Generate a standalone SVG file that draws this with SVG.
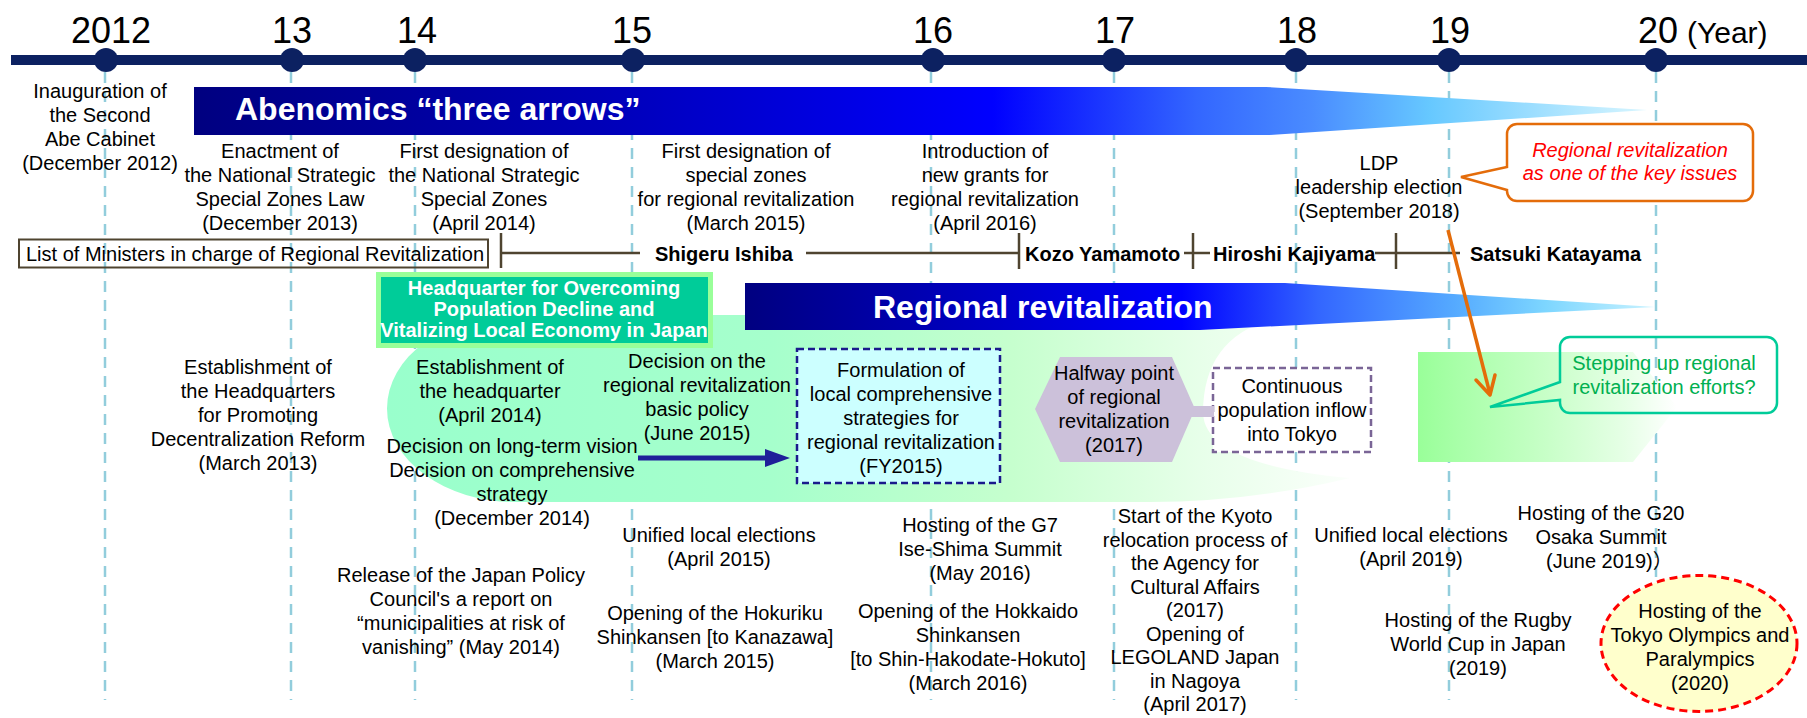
<svg xmlns="http://www.w3.org/2000/svg" width="1807" height="718" viewBox="0 0 1807 718">
<style>
.t{font-family:"Liberation Sans",Arial,"Noto Sans CJK JP",sans-serif;font-size:20px;fill:#000;text-anchor:middle}
.s{text-anchor:start}
.b{font-weight:bold}
.w{fill:#fff}
.yr{font-size:36px}
.dash{stroke:#92cddc;stroke-width:2.5;stroke-dasharray:11 8;fill:none}
.min{stroke:#4f4430;stroke-width:2.5;fill:none}
.dot{fill:#0c2161}
</style>
<defs>
<linearGradient id="gAbe" gradientUnits="userSpaceOnUse" x1="194" y1="0" x2="1647" y2="0">
<stop offset="0" stop-color="#000080"/>
<stop offset="0.28" stop-color="#0000b8"/>
<stop offset="0.55" stop-color="#0000ff"/>
<stop offset="0.69" stop-color="#3366ff"/>
<stop offset="0.77" stop-color="#4a8cff"/>
<stop offset="0.85" stop-color="#66c8ff"/>
<stop offset="1" stop-color="#d8f6ff"/>
</linearGradient>
<linearGradient id="gReg" gradientUnits="userSpaceOnUse" x1="745" y1="0" x2="1655" y2="0">
<stop offset="0" stop-color="#000080"/>
<stop offset="0.28" stop-color="#0000c8"/>
<stop offset="0.48" stop-color="#0000ff"/>
<stop offset="0.63" stop-color="#3366ff"/>
<stop offset="0.78" stop-color="#55aaff"/>
<stop offset="0.88" stop-color="#7dd6ff"/>
<stop offset="1" stop-color="#c8f2ff"/>
</linearGradient>
<linearGradient id="gMint" gradientUnits="userSpaceOnUse" x1="387" y1="0" x2="1350" y2="0">
<stop offset="0" stop-color="#99ffcc"/>
<stop offset="0.4" stop-color="#a6ffcc"/>
<stop offset="0.65" stop-color="#c6ffce"/>
<stop offset="0.85" stop-color="#e8ffea"/>
<stop offset="1" stop-color="#fbfffb"/>
</linearGradient>
<linearGradient id="gStep" gradientUnits="userSpaceOnUse" x1="1418" y1="0" x2="1677" y2="0">
<stop offset="0" stop-color="#99ff99"/>
<stop offset="0.15" stop-color="#a8ffa8"/>
<stop offset="0.5" stop-color="#c8ffc8"/>
<stop offset="0.8" stop-color="#e6ffe6"/>
<stop offset="1" stop-color="#ffffff"/>
</linearGradient>
</defs>

<g id="gridlines">
<line class="dash" x1="105" y1="72" x2="105" y2="700"/>
<line class="dash" x1="291" y1="72" x2="291" y2="700"/>
<line class="dash" x1="415" y1="72" x2="415" y2="700"/>
<line class="dash" x1="632" y1="72" x2="632" y2="700"/>
<line class="dash" x1="931" y1="72" x2="931" y2="700"/>
<line class="dash" x1="1114" y1="72" x2="1114" y2="700"/>
<line class="dash" x1="1296" y1="72" x2="1296" y2="700"/>
<line class="dash" x1="1449" y1="72" x2="1449" y2="700"/>
<line class="dash" x1="1656" y1="72" x2="1656" y2="700"/>
</g>

<g id="timeline">
<line x1="11" y1="60" x2="1807" y2="60" stroke="#0c2161" stroke-width="10"/>
<circle class="dot" cx="106" cy="60" r="12"/>
<circle class="dot" cx="292" cy="60" r="12"/>
<circle class="dot" cx="415" cy="60" r="12"/>
<circle class="dot" cx="633" cy="60" r="12"/>
<circle class="dot" cx="933" cy="60" r="12"/>
<circle class="dot" cx="1114" cy="60" r="12"/>
<circle class="dot" cx="1296" cy="60" r="12"/>
<circle class="dot" cx="1449" cy="60" r="12"/>
<circle class="dot" cx="1656" cy="60" r="12"/>
<text class="t yr" x="111" y="43">2012</text>
<text class="t yr" x="292" y="43">13</text>
<text class="t yr" x="417" y="43">14</text>
<text class="t yr" x="632" y="43">15</text>
<text class="t yr" x="933" y="43">16</text>
<text class="t yr" x="1115" y="43">17</text>
<text class="t yr" x="1297" y="43">18</text>
<text class="t yr" x="1450" y="43">19</text>
<text class="t yr" x="1658" y="43">20</text>
<text class="t s" x="1687" y="43" style="font-size:30px">(Year)</text>
</g>

<g id="mint-area">
<path d="M515,315 L1290,315 Q1203,330 1203,413 Q1205,465 1350,478 Q1250,502 1150,502 L515,502 A128,93.5 0 0 1 515,315 Z" fill="url(#gMint)"/>
</g>

<g id="stepping-area">
<polygon points="1418,352 1633,352 1677,407 1633,462 1418,462" fill="url(#gStep)"/>
</g>

<g id="abenomics">
<path d="M194,87 L1266,87 L1647,110 L1270,135 L194,135 Z" fill="url(#gAbe)"/>
<text class="t s b w" x="235" y="120" style="font-size:32px">Abenomics “three arrows”</text>
</g>

<g id="regional-revitalization">
<path d="M745,283 L1285,283 L1655,307 L1200,330 L745,330 Z" fill="url(#gReg)"/>
<text class="t s b w" x="873" y="318" style="font-size:32px">Regional revitalization</text>
</g>

<g id="headquarter">
<rect x="378.5" y="274.5" width="332" height="71" fill="#00cc99" stroke="#99ff99" stroke-width="5"/>
<text class="t b w"><tspan x="544" y="295">Headquarter for Overcoming</tspan><tspan x="544" y="316">Population Decline and</tspan><tspan x="544" y="337">Vitalizing Local Economy in Japan</tspan></text>
</g>

<g id="ministers">
<rect x="19" y="239.5" width="469" height="28" fill="none" stroke="#4f4430" stroke-width="2"/>
<text class="t s" x="26" y="261">List of Ministers in charge of Regional Revitalization</text>
<line class="min" x1="501" y1="253" x2="640" y2="253"/>
<line class="min" x1="806" y1="253" x2="1019" y2="253"/>
<line class="min" x1="1184" y1="253" x2="1210" y2="253"/>
<line class="min" x1="1375" y1="253" x2="1460" y2="253"/>
<line class="min" x1="501" y1="233" x2="501" y2="268"/>
<line class="min" x1="1019" y1="233" x2="1019" y2="269"/>
<line class="min" x1="1193" y1="233" x2="1193" y2="269"/>
<line class="min" x1="1396" y1="233" x2="1396" y2="269"/>
<text class="t s b" x="655" y="261">Shigeru Ishiba</text>
<text class="t s b" x="1025" y="261">Kozo Yamamoto</text>
<text class="t s b" x="1213" y="261">Hiroshi Kajiyama</text>
<text class="t s b" x="1470" y="261">Satsuki Katayama</text>
</g>

<g id="ev-inauguration"><text class="t"><tspan x="100" y="98">Inauguration of</tspan><tspan x="100" y="122">the Second</tspan><tspan x="100" y="146">Abe Cabinet</tspan><tspan x="100" y="170">(December 2012)</tspan></text></g>
<g id="ev-enactment"><text class="t"><tspan x="280" y="158">Enactment of</tspan><tspan x="280" y="182">the National Strategic</tspan><tspan x="280" y="206">Special Zones Law</tspan><tspan x="280" y="230">(December 2013)</tspan></text></g>
<g id="ev-first-designation"><text class="t"><tspan x="484" y="158">First designation of</tspan><tspan x="484" y="182">the National Strategic</tspan><tspan x="484" y="206">Special Zones</tspan><tspan x="484" y="230">(April 2014)</tspan></text></g>
<g id="ev-special-zones"><text class="t"><tspan x="746" y="158">First designation of</tspan><tspan x="746" y="182">special zones</tspan><tspan x="746" y="206">for regional revitalization</tspan><tspan x="746" y="230">(March 2015)</tspan></text></g>
<g id="ev-grants"><text class="t"><tspan x="985" y="158">Introduction of</tspan><tspan x="985" y="182">new grants for</tspan><tspan x="985" y="206">regional revitalization</tspan><tspan x="985" y="230">(April 2016)</tspan></text></g>
<g id="ev-ldp"><text class="t"><tspan x="1379" y="170">LDP</tspan><tspan x="1379" y="194">leadership election</tspan><tspan x="1379" y="218">(September 2018)</tspan></text></g>

<g id="callout-key-issue">
<path d="M1517,124 H1743 A10,10 0 0 1 1753,134 V191 A10,10 0 0 1 1743,201 H1517 A10,10 0 0 1 1507,191 V190 L1461,177 L1507,167 V134 A10,10 0 0 1 1517,124 Z" fill="#fff" stroke="#e46c0a" stroke-width="2.5"/>
<text class="t" style="fill:#ff0000;font-style:italic"><tspan x="1630" y="157">Regional revitalization</tspan><tspan x="1630" y="180">as one of the key issues</tspan></text>
</g>

<g id="ev-decentralization"><text class="t"><tspan x="258" y="374">Establishment of</tspan><tspan x="258" y="398">the Headquarters</tspan><tspan x="258" y="422">for Promoting</tspan><tspan x="258" y="446">Decentralization Reform</tspan><tspan x="258" y="470">(March 2013)</tspan></text></g>
<g id="ev-establishment"><text class="t"><tspan x="490" y="374">Establishment of</tspan><tspan x="490" y="398">the headquarter</tspan><tspan x="490" y="422">(April 2014)</tspan></text></g>
<g id="ev-vision"><text class="t"><tspan x="512" y="453">Decision on long-term vision</tspan><tspan x="512" y="477">Decision on comprehensive</tspan><tspan x="512" y="501">strategy</tspan><tspan x="512" y="525">(December 2014)</tspan></text></g>
<g id="ev-basic-policy"><text class="t"><tspan x="697" y="368">Decision on the</tspan><tspan x="697" y="392">regional revitalization</tspan><tspan x="697" y="416">basic policy</tspan><tspan x="697" y="440">(June 2015)</tspan></text></g>

<g id="formulation">
<rect x="797" y="349" width="203" height="134" fill="#ccffff" stroke="#1a1a8c" stroke-width="2.5" stroke-dasharray="7 4"/>
<text class="t"><tspan x="901" y="377">Formulation of</tspan><tspan x="901" y="401">local comprehensive</tspan><tspan x="901" y="425">strategies for</tspan><tspan x="901" y="449">regional revitalization</tspan><tspan x="901" y="473">(FY2015)</tspan></text>
</g>

<g id="halfway">
<polygon points="1035,409 1060,357 1172,357 1195,409 1172,462 1060,462" fill="#ccc1da"/>
<text class="t"><tspan x="1114" y="380">Halfway point</tspan><tspan x="1114" y="404">of regional</tspan><tspan x="1114" y="428">revitalization</tspan><tspan x="1114" y="452">(2017)</tspan></text>
</g>

<g id="continuous-inflow">
<rect x="1213" y="368" width="158" height="84" fill="#fff" stroke="#7a6596" stroke-width="2.5" stroke-dasharray="7 4"/>
<text class="t"><tspan x="1292" y="393">Continuous</tspan><tspan x="1292" y="417">population inflow</tspan><tspan x="1292" y="441">into Tokyo</tspan></text>
</g>

<g id="callout-stepping-up">
<path d="M1570,337 H1767 A10,10 0 0 1 1777,347 V403 A10,10 0 0 1 1767,413 H1570 A10,10 0 0 1 1560,403 V400 L1490,407 L1560,382 V347 A10,10 0 0 1 1570,337 Z" fill="none" stroke="#00cc99" stroke-width="2.5"/>
<text class="t" style="fill:#00b050"><tspan x="1664" y="370">Stepping up regional</tspan><tspan x="1664" y="394">revitalization efforts?</tspan></text>
</g>

<g id="ev-release"><text class="t"><tspan x="461" y="582">Release of the Japan Policy</tspan><tspan x="461" y="606">Council's a report on</tspan><tspan x="461" y="630">“municipalities at risk of</tspan><tspan x="461" y="654">vanishing” (May 2014)</tspan></text></g>
<g id="ev-unified-2015"><text class="t"><tspan x="719" y="542">Unified local elections</tspan><tspan x="719" y="566">(April 2015)</tspan></text></g>
<g id="ev-hokuriku"><text class="t"><tspan x="715" y="620">Opening of the Hokuriku</tspan><tspan x="715" y="644">Shinkansen [to Kanazawa]</tspan><tspan x="715" y="668">(March 2015)</tspan></text></g>
<g id="ev-g7"><text class="t"><tspan x="980" y="532">Hosting of the G7</tspan><tspan x="980" y="556">Ise-Shima Summit</tspan><tspan x="980" y="580">(May 2016)</tspan></text></g>
<g id="ev-hokkaido"><text class="t"><tspan x="968" y="618">Opening of the Hokkaido</tspan><tspan x="968" y="642">Shinkansen</tspan><tspan x="968" y="666">[to Shin-Hakodate-Hokuto]</tspan><tspan x="968" y="690">(March 2016)</tspan></text></g>
<g id="ev-kyoto"><text class="t"><tspan x="1195" y="523">Start of the Kyoto</tspan><tspan x="1195" y="546.5">relocation process of</tspan><tspan x="1195" y="570">the Agency for</tspan><tspan x="1195" y="593.5">Cultural Affairs</tspan><tspan x="1195" y="617">(2017)</tspan><tspan x="1195" y="640.5">Opening of</tspan><tspan x="1195" y="664">LEGOLAND Japan</tspan><tspan x="1195" y="687.5">in Nagoya</tspan><tspan x="1195" y="711">(April 2017)</tspan></text></g>
<g id="ev-unified-2019"><text class="t"><tspan x="1411" y="542">Unified local elections</tspan><tspan x="1411" y="566">(April 2019)</tspan></text></g>
<g id="ev-g20"><text class="t"><tspan x="1601" y="520">Hosting of the G20</tspan><tspan x="1601" y="544">Osaka Summit</tspan></text><text class="t s" x="1546" y="568">(June 2019)）</text></g>
<g id="ev-rugby"><text class="t"><tspan x="1478" y="627">Hosting of the Rugby</tspan><tspan x="1478" y="651">World Cup in Japan</tspan><tspan x="1478" y="675">(2019)</tspan></text></g>
<g id="ev-tokyo2020">
<ellipse cx="1699" cy="643.5" rx="98" ry="68" fill="#ffffcc" stroke="#ff0000" stroke-width="3" stroke-dasharray="8 5"/>
<text class="t"><tspan x="1700" y="618">Hosting of the</tspan><tspan x="1700" y="642">Tokyo Olympics and</tspan><tspan x="1700" y="666">Paralympics</tspan><tspan x="1700" y="690">(2020)</tspan></text>
</g>

<g id="connectors">
<rect x="1190" y="406" width="24" height="11" fill="#ccc1da"/>
<line x1="638" y1="458" x2="768" y2="458" stroke="#1f1f99" stroke-width="5"/>
<polygon points="765,449 790,458 765,467" fill="#1f1f99"/>
<line x1="1448" y1="230" x2="1490" y2="394" stroke="#e46c0a" stroke-width="3.5"/>
<polyline points="1476,380 1490,395 1495,375" fill="none" stroke="#e46c0a" stroke-width="3.5" stroke-linecap="round" stroke-linejoin="round"/>
</g>
</svg>
